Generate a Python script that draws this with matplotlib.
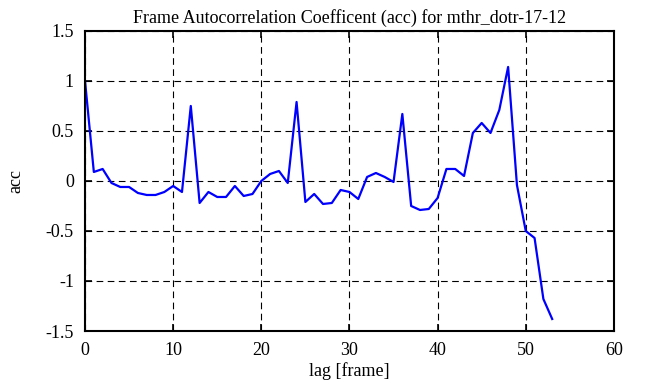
import numpy as np
import matplotlib.pyplot as plt

lag = np.arange(54)
acc = [1.0, 0.09, 0.12, -0.02, -0.06, -0.06, -0.12, -0.14, -0.14, -0.11,
       -0.05, -0.11, 0.75, -0.22, -0.11, -0.16, -0.16, -0.05, -0.15, -0.13,
       0.0, 0.07, 0.10, -0.02, 0.79, -0.21, -0.13, -0.23, -0.22, -0.09,
       -0.11, -0.18, 0.04, 0.08, 0.04, -0.01, 0.67, -0.25, -0.29, -0.28,
       -0.17, 0.12, 0.12, 0.05, 0.48, 0.58, 0.48, 0.71, 1.14, -0.04,
       -0.50, -0.57, -1.18, -1.38]

xticks = [0, 10, 20, 30, 40, 50, 60]
yticks = [-1.5, -1, -0.5, 0, 0.5, 1, 1.5]
ytick_labels = ["-1.5", "-1", "-0.5", "0", "0.5", "1", "1.5"]

plt.rcParams['font.family'] = ['Liberation Serif', 'DejaVu Serif']

fig = plt.figure(figsize=(6.51, 3.87), dpi=100)
ax = fig.add_axes([0.1306, 0.1447, 0.8124, 0.7753])
ax.plot(lag, acc, color='#0000ff', linewidth=1.6)
ax.set_xlim(0, 60)
ax.set_ylim(-1.5, 1.5)
ax.set_xticks(xticks)
ax.set_yticks(yticks)
ax.set_yticklabels(ytick_labels)
ax.grid(True, color='black', linestyle=(0, (6, 4)), linewidth=0.8)
ax.tick_params(direction='in', top=True, right=True, labelsize=13, length=5, width=1.2, pad=8)
for s in ax.spines.values():
    s.set_linewidth(1.5)
ax.set_xlabel('lag [frame]', fontsize=13, labelpad=2)
ax.set_ylabel('acc', fontsize=13, labelpad=15)
ax.set_title('Frame Autocorrelation Coefficent (acc) for mthr_dotr-17-12', fontsize=13, pad=6)

fig.savefig('out.png', dpi=100)
